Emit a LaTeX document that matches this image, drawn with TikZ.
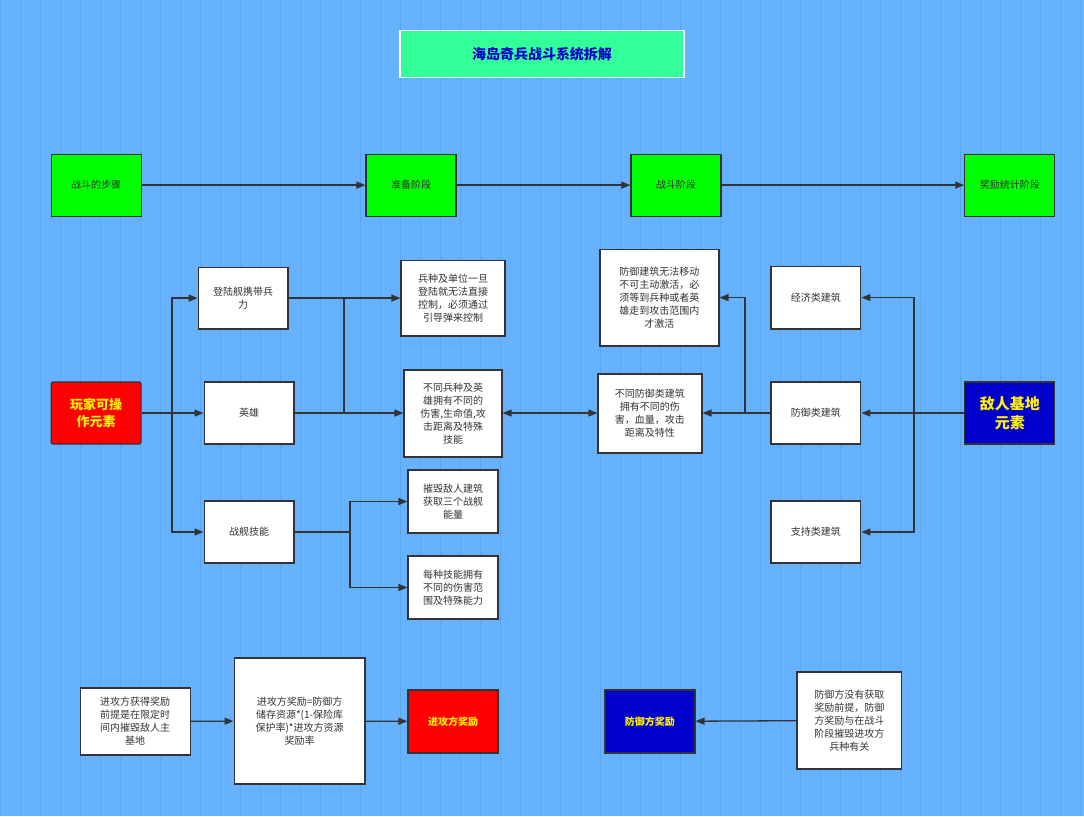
\documentclass[tikz,border=0pt]{standalone}
\usepackage{fontspec}
\setmainfont{Noto Sans CJK SC}
\usetikzlibrary{arrows.meta}
\definecolor{bg}{HTML}{66B2FF}
\definecolor{gridc}{HTML}{5AA5F0}
\definecolor{ln}{HTML}{333333}
\definecolor{txt}{HTML}{333333}
\definecolor{mint}{HTML}{33FF99}
\definecolor{navy}{HTML}{0000CC}
\tikzset{
 px/.style={x=1pt,y=-1pt},
 box/.style={draw=ln,line width=1.2pt,fill=white,text=txt,align=center,font=\fontsize{10}{13}\selectfont,inner sep=2pt},
 gbox/.style={box,fill=green},
 conn/.style={draw=ln,line width=1.3pt,-{Triangle[length=9pt,width=7pt]}},
 plain/.style={draw=ln,line width=1.3pt},
}
\newcommand{\bx}[6]{\node[#1,minimum width=#4-#2,minimum height=#5-#3] (#6) at ({(#2+#4)/2},{(#3+#5)/2})}
\begin{document}
\begin{tikzpicture}[px]
\fill[bg] (0,0) rectangle (1084,816);
\draw[gridc,line width=0.4pt,step=20] (0,0) grid (1084,816);
\useasboundingbox (0,0) rectangle (1084,816);
\node[draw=white,line width=1.2pt,fill=mint,minimum width=284,minimum height=47,text=navy,font=\bfseries\fontsize{14}{16}\selectfont] (title) at (542,53.5) {海岛奇兵战斗系统拆解};
\bx{gbox}{51}{154}{141}{216}{s1}{战斗的步骤};
\bx{gbox}{366}{154}{456}{216}{s2}{准备阶段};
\bx{gbox}{631}{154}{721}{216}{s3}{战斗阶段};
\bx{gbox}{965}{154}{1055}{216}{s4}{奖励统计阶段};
\draw[conn] (s1) -- (s2);
\draw[conn] (s2) -- (s3);
\draw[conn] (s3) -- (s4);
\node[box,fill=red,text=yellow,font=\bfseries\fontsize{13}{17}\selectfont,minimum width=90,minimum height=62,rounded corners=2pt] (pl) at (96,413) {玩家可操\\作元素};
\bx{box}{198}{267}{288}{329}{ld}{登陆舰携带兵\\力};
\bx{box}{204}{382}{294}{444}{hero}{英雄};
\bx{box}{204}{501}{294}{563}{sk}{战舰技能};
\bx{box}{401}{260}{505}{336}{t1}{兵种及单位一旦\\登陆就无法直接\\控制，必须通过\\引导弹来控制};
\bx{box}{404}{370}{502}{457}{t2}{不同兵种及英\\雄拥有不同的\\伤害,生命值,攻\\击距离及特殊\\技能};
\bx{box}{408}{470}{498}{533}{t3}{摧毁敌人建筑\\获取三个战舰\\能量};
\bx{box}{408}{556}{498}{619}{t4}{每种技能拥有\\不同的伤害范\\围及特殊能力};
\bx{box}{600}{249}{719}{346}{d1}{防御建筑无法移动\\不可主动激活，必\\须等到兵种或者英\\雄走到攻击范围内\\才激活};
\bx{box}{598}{374}{702}{453}{d2}{不同防御类建筑\\拥有不同的伤\\害，血量，攻击\\距离及特性};
\bx{box}{771}{266}{861}{329}{e1}{经济类建筑};
\bx{box}{771}{382}{861}{444}{e2}{防御类建筑};
\bx{box}{771}{501}{861}{563}{e3}{支持类建筑};
\node[box,fill=navy,text=yellow,font=\bfseries\fontsize{15}{19}\selectfont,minimum width=90,minimum height=62] (en) at (1010,413) {敌人基地\\元素};
\coordinate (pj) at (172,413);
\draw[conn] (pl) -- (hero);
\draw[conn] (pj) |- (ld);
\draw[conn] (pj) |- (sk);
\draw[conn] (ld) -- (t1.west|-ld);
\draw[conn] (hero) -- (t2.west|-hero);
\draw[plain] (344,413) -- (344,298);
\coordinate (sj) at (350,532);
\draw[plain] (sk) -- (sj);
\draw[conn] (sj) |- (t3);
\draw[conn] (sj) |- (t4);
\draw[draw=ln,line width=1.3pt,{Triangle[length=9pt,width=7pt]}-{Triangle[length=9pt,width=7pt]}] (t2.east|-hero) -- (d2.west|-hero);
\draw[conn] (e2) -- (d2.east|-e2);
\coordinate (dj) at (745,413);
\draw[conn] (dj) |- (d1.east|-e1);
\coordinate (ej) at (914,413);
\draw[conn] (en) -- (e2);
\draw[conn] (ej) |- (e1);
\draw[conn] (ej) |- (e3);
\bx{box}{80}{688}{190}{755}{b1}{进攻方获得奖励\\前提是在限定时\\间内摧毁敌人主\\基地};
\bx{box}{234}{658}{365}{784}{b2}{进攻方奖励=防御方\\储存资源*(1-保险库\\保护率)*进攻方资源\\奖励率};
\node[box,fill=red,text=yellow,font=\bfseries\fontsize{10}{13}\selectfont,minimum width=90,minimum height=63] (b3) at (453,721.5) {进攻方奖励};
\node[box,fill=navy,text=yellow,font=\bfseries\fontsize{10}{13}\selectfont,minimum width=90,minimum height=63] (b4) at (650,721.5) {防御方奖励};
\bx{box}{797}{672}{902}{769}{b5}{防御方没有获取\\奖励前提，防御\\方奖励与在战斗\\阶段摧毁进攻方\\兵种有关};
\draw[conn] (b1) -- (b2);
\draw[conn] (b2) -- (b3);
\draw[conn] (b5) -- (b4);
\end{tikzpicture}
\end{document}
